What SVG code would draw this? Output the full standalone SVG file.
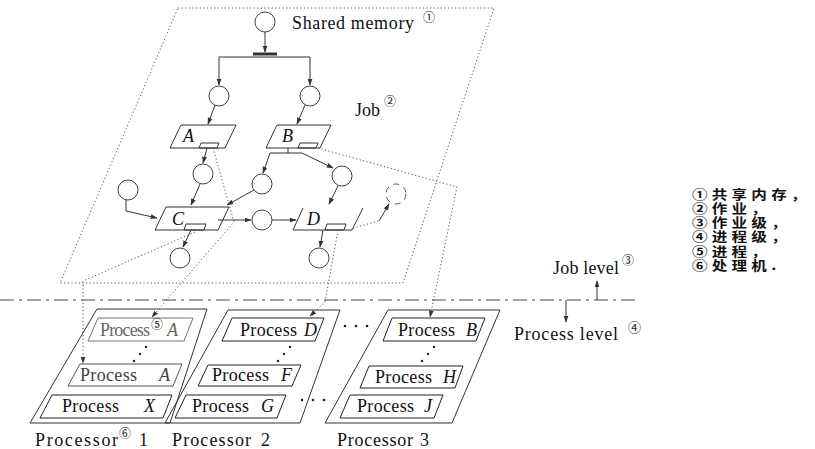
<svg xmlns="http://www.w3.org/2000/svg" width="815" height="449" viewBox="0 0 815 449">
<defs>
<marker id="ah" viewBox="0 0 10 10" refX="9" refY="5" markerWidth="7" markerHeight="7" markerUnits="userSpaceOnUse" orient="auto"><path d="M0,1.5 L10,5 L0,8.5 z" fill="#333"/></marker>
<style>
.t{font-family:'Liberation Serif',serif;font-size:18px;fill:#111}
.it{font-style:italic}
.g{fill:#666}
.sup{font-family:'Noto Sans CJK SC','DejaVu Sans',sans-serif;font-size:12px;fill:#222}
.lg{font-family:'Noto Sans CJK SC',sans-serif;font-size:13px;font-weight:bold;letter-spacing:3.5px;fill:#111}
.c{fill:#fff;stroke:#444;stroke-width:1}
.bx{fill:none;stroke:#333;stroke-width:1}
.pb{fill:#fff;stroke:#222;stroke-width:1}
.ln{fill:none;stroke:#333;stroke-width:1}
.ar{fill:none;stroke:#333;stroke-width:1;marker-end:url(#ah)}
.dt{fill:none;stroke:#555;stroke-width:1;stroke-dasharray:1.2 2.4}
.dta{fill:none;stroke:#555;stroke-width:1;stroke-dasharray:1.2 2.4;marker-end:url(#ah)}
.dot{fill:#222}
</style>
</defs>
<rect width="815" height="449" fill="#fff"/>

<g id="job-plane">
<polygon class="dt" points="178,8 494,8 403,283 60,283"/>
<text class="t" x="355" y="116">Job</text><text class="sup" x="384" y="106">②</text>
</g>

<g id="processor-1">
<polygon class="bx" points="97,309 207,309 170,423 30,423"/>
<polygon class="pb" style="stroke:#777" points="98,318 193,318 184,341 88,341"/>
<text class="t g" x="100" y="336" textLength="50">Process</text><text class="sup g" x="151" y="329">⑤</text><text class="t it g" x="167" y="336">A</text>
<circle class="dot" cx="146" cy="347" r="1.2"/><circle class="dot" cx="140" cy="354" r="1.2"/><circle class="dot" cx="134" cy="361" r="1.2"/>
<polygon class="pb" style="stroke:#555" points="80,364 182,364 173,386 68,386"/>
<text class="t" style="fill:#444" x="80" y="381" textLength="57">Process</text><text class="t it" style="fill:#444" x="159" y="381">A</text>
<polygon class="pb" points="52,395 172,395 163,418 40,418"/>
<text class="t" x="62" y="412" textLength="57">Process</text><text class="t it" x="144" y="412">X</text>
<text class="t" x="35" y="446" textLength="83">Processor</text><text class="sup" x="119" y="438">⑥</text><text class="t" x="139" y="446">1</text>
</g>

<g id="processor-2">
<polygon class="bx" points="228,310 340,310 300,423 165,423"/>
<polygon class="pb" points="232,318 324,318 315,341 222,341"/>
<text class="t" x="240" y="336" textLength="57">Process</text><text class="t it" x="304" y="336">D</text>
<circle class="dot" cx="290" cy="347" r="1.2"/><circle class="dot" cx="284" cy="354" r="1.2"/><circle class="dot" cx="278" cy="361" r="1.2"/>
<polygon class="pb" points="208,365 301,365 292,386 198,386"/>
<text class="t" x="212" y="381" textLength="57">Process</text><text class="t it" x="281" y="381">F</text>
<polygon class="pb" points="186,395 286,395 277,418 175,418"/>
<text class="t" x="192" y="412" textLength="57">Process</text><text class="t it" x="261" y="412">G</text>
<text class="t" x="172" y="446" textLength="79">Processor</text><text class="t" x="261" y="446">2</text>
</g>

<g id="ellipses">
<circle class="dot" cx="345" cy="326" r="1.3"/><circle class="dot" cx="356" cy="326" r="1.3"/><circle class="dot" cx="367" cy="326" r="1.3"/>
<circle class="dot" cx="302" cy="400" r="1.3"/><circle class="dot" cx="313" cy="400" r="1.3"/><circle class="dot" cx="324" cy="400" r="1.3"/>
</g>

<g id="processor-3">
<polygon class="bx" points="388,310 500,310 452,423 325,423"/>
<polygon class="pb" points="392,318 485,318 476,341 383,341"/>
<text class="t" x="398" y="336" textLength="57">Process</text><text class="t it" x="466" y="336">B</text>
<circle class="dot" cx="434" cy="347" r="1.2"/><circle class="dot" cx="428" cy="354" r="1.2"/><circle class="dot" cx="422" cy="361" r="1.2"/>
<polygon class="pb" points="369,366 463,366 455,388 360,388"/>
<text class="t" x="375" y="383" textLength="57">Process</text><text class="t it" x="443" y="383">H</text>
<polygon class="pb" points="350,395 443,395 434,418 340,418"/>
<text class="t" x="357" y="412" textLength="57">Process</text><text class="t it" x="424" y="412">J</text>
<text class="t" x="337" y="446" textLength="76">Processor</text><text class="t" x="420" y="446">3</text>
</g>

<g id="node-shared-memory">
<circle class="c" cx="265" cy="22" r="10"/>
<line x1="253" y1="54" x2="277" y2="54" stroke="#333" stroke-width="3"/>
<text class="t" x="292" y="29" textLength="122">Shared memory</text><text class="sup" x="423" y="22">①</text>
</g>
<g id="node-p1"><circle class="c" cx="219" cy="96" r="10"/></g>
<g id="node-p2"><circle class="c" cx="310" cy="96" r="10"/></g>
<g id="node-A">
<polygon class="bx" points="181,125 236,125 225,148 170,148"/>
<polygon class="bx" points="201,143 219,143 217,148 199,148"/>
<text class="t it" x="183" y="142">A</text>
</g>
<g id="node-B">
<polygon class="bx" points="277,125 331,125 320,148 266,148"/>
<polygon class="bx" points="300,143 318,143 316,148 298,148"/>
<text class="t it" x="282" y="142">B</text>
</g>
<g id="node-pa"><circle class="c" cx="203" cy="174" r="10"/></g>
<g id="node-pbl"><circle class="c" cx="262" cy="184" r="10"/></g>
<g id="node-pbr"><circle class="c" cx="342" cy="176" r="10"/></g>
<g id="node-pl"><circle class="c" cx="128" cy="190" r="10"/></g>
<g id="node-C">
<polygon class="bx" points="166,207 229,207 218,230 155,230"/>
<polygon class="bx" points="186,224 206,224 204,230 184,230"/>
<text class="t it" x="172" y="225">C</text>
</g>
<g id="node-pm"><circle class="c" cx="262" cy="220" r="10"/></g>
<g id="node-D">
<path class="ln" d="M293,230 L303,208 M352,230 L363,208 M293,230 H352"/>
<polygon class="bx" points="327,224 346,224 344,230 325,230"/>
<text class="t it" x="307" y="225">D</text>
</g>
<g id="node-pc"><circle class="c" cx="180" cy="258" r="10"/></g>
<g id="node-pd"><circle class="c" cx="319" cy="258" r="10"/></g>
<g id="node-pout"><circle cx="396" cy="194" r="10" fill="none" stroke="#555" stroke-dasharray="6 5"/></g>

<g id="levels">
<line x1="0" y1="300" x2="637" y2="300" stroke="#444" stroke-width="1" stroke-dasharray="14 5 3 5"/>
<text class="t" x="553" y="274" textLength="66">Job level</text><text class="sup" x="622" y="265">③</text>
<text class="t" x="514" y="340" textLength="104">Process level</text><text class="sup" style="font-size:13px" x="628" y="332">④</text>
</g>

<g id="connectors">
<path class="ar" d="M265,32 V52"/>
<path class="ar" d="M265,57 H219 V85"/>
<path class="ar" d="M265,57 H310 V85"/>
<path class="ar" d="M215,105 L208,124"/>
<path class="ar" d="M305,105 L297,124"/>
<path class="ar" d="M207,148 L203,163"/>
<path class="ln" d="M288,148 V153 M270,153 H302"/>
<path class="ar" d="M270,153 L263,173"/>
<path class="ar" d="M302,153 L333,168"/>
<path class="ar" d="M126,200 V211 L157,218"/>
<path class="ar" d="M200,184 L191,205"/>
<path class="ar" d="M254,190 L227,205"/>
<path class="ar" d="M218,220 L251,220"/>
<path class="ar" d="M272,220 L296,220"/>
<path class="ar" d="M338,186 L329,204"/>
<path class="ar" d="M191,230 L183,247"/>
<path class="ar" d="M323,230 L320,247"/>
<path class="dt" d="M353,228 L379,221"/>
<path class="ar" d="M379,221 L389,204"/>
<path class="dta" d="M213,148 L234,222 L152,317"/>
<path class="dta" d="M195,232 L83,281 L83,363"/>
<path class="dta" d="M318,148 L457,187 L430,317"/>
<path class="dta" d="M338,230 L325,302 L310,316"/>
<path class="ar" d="M597,300 V281"/>
<path class="ar" d="M566,300 V322"/>
</g>

<g id="legend" transform="translate(692,0) scale(1.2,1)">
<text class="lg"><tspan x="0" y="199">①共享内存，</tspan><tspan x="0" y="213">②作业，</tspan><tspan x="0" y="227">③作业级，</tspan><tspan x="0" y="241">④进程级，</tspan><tspan x="0" y="256">⑤进程，</tspan><tspan x="0" y="270">⑥处理机.</tspan></text>
</g>
</svg>
